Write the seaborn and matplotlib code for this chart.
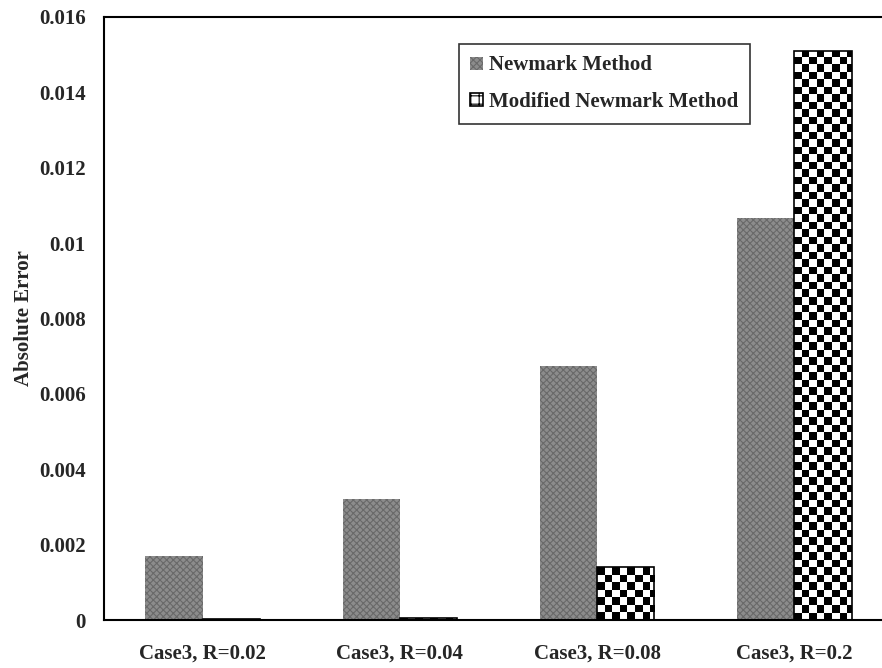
import numpy as np
import pandas as pd
import seaborn as sns
import matplotlib.pyplot as plt
from matplotlib.patches import Patch

# values
cases = ['Case3, R=0.02', 'Case3, R=0.04', 'Case3, R=0.08', 'Case3, R=0.2']
newmark = [0.0017, 0.00322, 0.00674, 0.01067]
modified = [0.00002, 0.00006, 0.0014, 0.0151]
methods = ['Newmark Method', 'Modified Newmark Method']
yticks = [0, 0.002, 0.004, 0.006, 0.008, 0.010, 0.012, 0.014, 0.016]
ytick_labels = ['0', '0.002', '0.004', '0.006', '0.008', '0.01', '0.012', '0.014', '0.016']

df = pd.DataFrame({
    'case': cases * 2,
    'err': newmark + modified,
    'method': [methods[0]] * 4 + [methods[1]] * 4,
})

sns.set_style('white')
plt.rcParams['font.family'] = ['Liberation Serif', 'DejaVu Serif']
plt.rcParams['font.weight'] = 'bold'
plt.rcParams['hatch.linewidth'] = 0.8

fig = plt.figure(figsize=(8.82, 6.68), dpi=100)
ax = fig.add_axes([104 / 882, 48 / 668, 789 / 882, 603 / 668])

sns.barplot(data=df, x='case', y='err', hue='method', width=0.58,
            palette=['#8a8a8a', 'white'], legend=False, ax=ax)

ax.set_xlim(-0.5, 3.5)
ax.set_ylim(0, 0.016)

# grey dither for Newmark bars
for p in ax.containers[0]:
    p.set_facecolor('#8c8c8c')
    p.set_edgecolor('#696969')
    p.set_linewidth(0)
    p.set_hatch('xxxxx')

# black/white checkerboard for Modified bars, clipped to each bar
cell_x = 7.5 / 197.3
cell_y = 7.5 / 603 * 0.016
for p in ax.containers[1]:
    x0, w, h = p.get_x(), p.get_width(), p.get_height()
    p.set_edgecolor('black')
    p.set_linewidth(1.2)
    nx = int(np.ceil(w / cell_x))
    ny = max(int(np.ceil(h / cell_y)), 1)
    ii, jj = np.indices((ny, nx))
    board = (ii + jj) % 2
    im = ax.imshow(board, cmap='gray', interpolation='nearest', origin='lower',
                   extent=(x0, x0 + nx * cell_x, 0, ny * cell_y), aspect='auto',
                   zorder=p.get_zorder() + 0.1)
    im.set_clip_path(p)
    p.set_zorder(p.get_zorder() + 0.2)
    p.set_facecolor('none')

ax.set_xlim(-0.5, 3.5)
ax.set_ylim(0, 0.016)

ax.set_yticks(yticks)
ax.set_yticklabels(ytick_labels, fontsize=15, fontweight='bold')
ax.set_xticks(range(4))
ax.set_xticklabels(cases, fontsize=15, fontweight='bold')
ax.set_xticks([-0.5, 0.5, 1.5, 2.5], minor=True)
ax.tick_params(axis='x', which='major', length=0, pad=17)
ax.tick_params(axis='x', which='minor', length=7, width=1.3, direction='out', color='black')
ax.tick_params(axis='y', length=7, width=1.3, direction='out', color='black', pad=6)
ax.set_xlabel('')
ax.set_ylabel('Absolute Error', fontsize=15, fontweight='bold', labelpad=4)

for s in ['left', 'bottom', 'top']:
    ax.spines[s].set_color('black')
    ax.spines[s].set_linewidth(1.5)
ax.spines['right'].set_visible(False)

handles = [
    Patch(facecolor='#8c8c8c', edgecolor='#696969', hatch='xxxxx', linewidth=0),
    Patch(facecolor='white', edgecolor='black', hatch='++', linewidth=1.2),
]
leg = ax.legend(handles, methods, loc='upper left',
                bbox_to_anchor=(459 / 882, 1 - 44 / 668), bbox_transform=fig.transFigure,
                borderaxespad=0, fancybox=False, frameon=True, fontsize=15,
                handlelength=0.6, handleheight=0.6, handletextpad=0.3,
                labelspacing=0.8, borderpad=0.55)
leg.get_frame().set_edgecolor('black')
leg.get_frame().set_linewidth(1.2)
for t in leg.get_texts():
    t.set_fontweight('bold')

fig.savefig('out.png', dpi=100)
